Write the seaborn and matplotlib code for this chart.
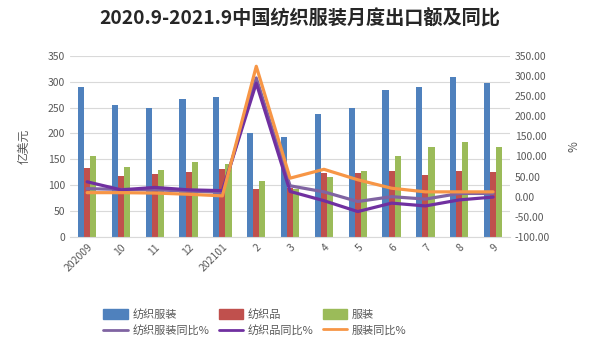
import pandas as pd
import seaborn as sns
import matplotlib.pyplot as plt
from matplotlib.ticker import FormatStrFormatter

# Data
months = ['202009', '10', '11', '12', '202101', '2', '3', '4', '5', '6', '7', '8', '9']
total = [290, 254, 250, 266, 271, 201, 193, 238, 250, 284, 290, 309, 298]
textiles = [134, 117, 121, 126, 131, 92, 95, 123, 123, 128, 120, 128, 126]
apparel = [157, 136, 130, 144, 140, 109, 92, 115, 128, 157, 173, 183, 174]
total_yoy = [20, 18, 17, 14, 11, 295, 27, 12, -12, 0, -6, 8, 8]
textiles_yoy = [37, 17, 23, 17, 15, 282, 13, -10, -37, -16, -23, -8, -1]
apparel_yoy = [10, 10, 9, 6, 2, 324, 46, 68, 42, 21, 12, 12, 12]

bar_names = ['纺织服装', '纺织品', '服装']
line_names = ['纺织服装同比%', '纺织品同比%', '服装同比%']
bar_colors = ['#4F81BD', '#C0504D', '#9BBB59']
line_colors = ['#8064A2', '#7030A0', '#F79646']

sns.set_style('white')
plt.rcParams['font.family'] = ['Noto Sans CJK SC', 'DejaVu Sans']
grey = '#595959'

bars = pd.DataFrame({
    'month': months * 3,
    'value': total + textiles + apparel,
    'series': [n for n in bar_names for _ in months],
})
lines = pd.DataFrame({
    'month': months * 3,
    'value': total_yoy + textiles_yoy + apparel_yoy,
    'series': [n for n in line_names for _ in months],
})

fig = plt.figure(figsize=(6, 3.51), dpi=100)
ax = fig.add_axes([0.117, 0.325, 0.733, 0.516])
sns.barplot(data=bars, x='month', y='value', hue='series', palette=bar_colors,
            width=0.54, gap=0, saturation=1, linewidth=0, ax=ax, legend=False)
ax.set_ylim(0, 350)
ax.set_yticks(range(0, 351, 50))
ax.grid(axis='y', color='#D9D9D9', linewidth=0.8)
ax.set_axisbelow(True)
ax.set_xlabel('')
ax.set_ylabel('亿美元', color=grey, fontsize=8.5)
ax.yaxis.set_label_coords(-0.09, 0.5)
for s in ['top', 'right', 'left']:
    ax.spines[s].set_visible(False)
ax.spines['bottom'].set_color('#D9D9D9')
ax.tick_params(axis='both', length=0, labelsize=7.5, labelcolor=grey)
plt.setp(ax.get_xticklabels(), rotation=45, ha='right', rotation_mode='anchor')

ax2 = ax.twinx()
sns.lineplot(data=lines, x='month', y='value', hue='series', palette=line_colors,
             linewidth=2.3, ax=ax2, legend=False, sort=False)
ax2.set_ylim(-100, 350)
ax2.set_yticks(range(-100, 351, 50))
ax2.yaxis.set_major_formatter(FormatStrFormatter('%.2f'))
ax2.set_ylabel('%', color=grey, fontsize=8.5)
ax2.yaxis.set_label_coords(1.13, 0.5)
ax2.set_xlabel('')
ax2.grid(False)
for s in ax2.spines.values():
    s.set_visible(False)
ax2.tick_params(axis='y', length=0, labelsize=7.5, labelcolor=grey)
ax.set_xlim(-0.5, len(months) - 0.5)

fig.suptitle('2020.9-2021.9中国纺织服装月度出口额及同比', x=0.5, y=0.978,
             fontsize=13.8, fontweight='bold', color='#262626')

handles = []
labels = []
for i in range(3):
    handles.append(plt.Rectangle((0, 0), 1, 1, color=bar_colors[i]))
    labels.append(bar_names[i])
    handles.append(plt.Line2D([0], [0], color=line_colors[i], linewidth=2))
    labels.append(line_names[i])
leg = fig.legend(handles, labels, ncol=3, loc='lower left',
                 bbox_to_anchor=(0.165, 0.03, 0.52, 0.12), mode='expand',
                 frameon=False, fontsize=8, handlelength=2.2, handleheight=0.95,
                 borderaxespad=0, labelspacing=0.45, handletextpad=0.4)
for t in leg.get_texts():
    t.set_color(grey)

fig.savefig('out.png', dpi=100)
